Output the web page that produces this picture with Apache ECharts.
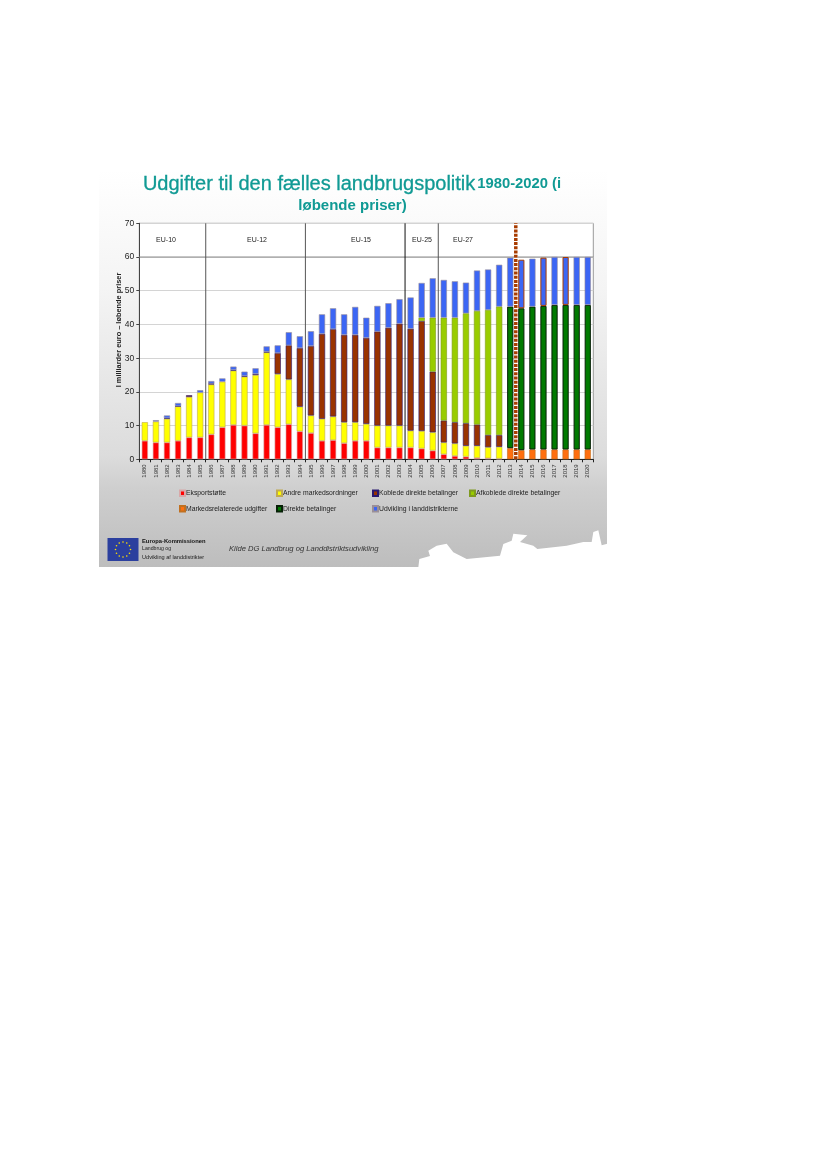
<!DOCTYPE html>
<html><head><meta charset="utf-8">
<style>html,body{margin:0;padding:0;background:#fff}#c{width:827px;height:1169px}</style>
<script src="https://cdn.jsdelivr.net/npm/echarts@6/dist/echarts.min.js"></script>
</head><body><div id="c"></div>
<script>
const years = [1980,1981,1982,1983,1984,1985,1986,1987,1988,1989,1990,1991,1992,1993,1994,1995,1996,1997,1998,1999,2000,2001,2002,2003,2004,2005,2006,2007,2008,2009,2010,2011,2012,2013,2014,2015,2016,2017,2018,2019,2020];
const eksport = [5.5,5,5,5.5,6.5,6.5,7.4,9.5,10.2,10,7.7,10.2,9.5,10.4,8.3,7.8,5.5,5.7,4.8,5.5,5.5,3.5,3.5,3.5,3.5,3.2,2.6,1.5,1,0.8,0.4,0.3,0.2,null,null,null,null,null,null,null,null];
const marked = [null,null,null,null,null,null,null,null,null,null,null,null,null,null,null,null,null,null,null,null,null,null,null,null,null,null,null,null,null,null,null,null,null,3.3,2.7,2.9,2.9,2.9,2.9,2.9,2.9];
const andre = [5.5,6.2,7,10.2,12,13.3,14.8,13.5,16.1,14.5,17.3,21.5,15.8,13.3,7.3,5.2,6.5,7,6.2,5.5,5,6.5,6.5,6.5,5,5.2,5.4,3.5,3.7,3.2,3.6,3.3,3.5,null,null,null,null,null,null,null,null];
const koblede = [null,null,0.2,0.1,0.5,null,0.3,null,0.2,0.2,0.3,0.2,6.2,10.1,17.4,20.6,25.2,25.9,25.9,25.9,25.5,27.9,29,30.2,30.2,32.6,18,6.5,6.3,6.7,6.3,3.6,3.5,null,null,null,null,null,null,null,null];
const afkoblede = [null,null,null,null,null,null,null,null,null,null,null,null,null,null,null,null,null,null,null,null,null,null,null,null,null,1,16,30.5,31,32.6,33.7,37.1,38.1,null,null,null,null,null,null,null,null];
const direkte = [null,null,null,null,null,null,null,null,null,null,null,null,null,null,null,null,null,null,null,null,null,null,null,null,null,null,null,null,null,null,null,null,null,42,42.1,42.4,42.6,42.9,42.9,42.9,42.9];
const udvikling = [null,0.4,0.8,0.9,null,0.7,0.7,1,1,1.3,1.7,1.6,2.3,3.9,3.5,4.4,5.8,6.2,6.1,8.3,6,7.6,7.3,7.3,9.3,10.3,11.7,11.2,10.8,9.1,12,12,12.4,14.5,14.4,14.2,14.3,14.2,14.2,14.2,14.2];
const brownEdgedYears = [2014,2016,2018];
const eraDividers = [6,15,24,27];
const eraLabels = [['EU-10',166],['EU-12',257],['EU-15',361],['EU-25',422],['EU-27',463]];
const reformDivider = 34;
const seriesDefs = [
  ['Eksportstøtte',eksport,'#ff0000','#d8a8a8'],
  ['Markedsrelaterede udgifter',marked,'#ff6f0f','#c07020'],
  ['Andre markedsordninger',andre,'#ffff00','#c0aa50'],
  ['Koblede direkte betalinger',koblede,'#993300','#2a1a70'],
  ['Afkoblede direkte betalinger',afkoblede,'#99cc00','#7f9a20'],
  ['Direkte betalinger',direkte,'#007a00','#062006'],
  ['Udvikling i landdistrikterne',udvikling,'#3c66f4','#9a8f98']
];
const tornEdge = [[955,337],[958,312],[990,303],[985,287],[1010,272],[1040,266],[1060,292],[1100,312],[1200,302],[1210,267],[1235,257],[1240,236],[1282,241],[1260,261],[1300,272],[1312,282],[1400,272],[1450,261],[1475,261],[1480,231],[1495,226],[1505,271],[1522,266],[1522,337]];
const chart = echarts.init(document.getElementById('c'),null,{renderer:'canvas'});
const bars = seriesDefs.map(d=>({name:d[0],type:'bar',stack:'t',
  data:d[1]===udvikling?d[1].map((v,i)=>brownEdgedYears.includes(years[i])?{value:v,itemStyle:{borderColor:'#a83c00',borderWidth:1}}:v):d[1],
  barWidth:'56%',itemStyle:{color:d[2],borderColor:d[3],borderWidth:d[1]===direkte?1:0.6},xAxisIndex:0,yAxisIndex:0,z:3,silent:true}));
const rule = (x,color,width,type,z)=>({type:'line',xAxisIndex:1,yAxisIndex:0,data:[[x,0],[x,70]],symbol:'none',silent:true,z:z||5,lineStyle:{color,width,type:type||'solid'}});
const lines = [
  {type:'line',xAxisIndex:1,yAxisIndex:0,data:[[0,60],[41,60]],symbol:'none',silent:true,z:1,lineStyle:{color:'#8c8c8c',width:1}},
  ...eraDividers.map(x=>rule(x,x===24?'#111':'#555',1)),
  rule(reformDivider,'#ffffff',3.5,'solid',6),
  rule(reformDivider,'#a83c00',3.5,[3,1.2],7)
];
const legendCols = [[0,1,179],[2,5,276],[3,6,372],[4,null,469]];
const flagStars = Array.from({length:12},(_,i)=>i);
const txt=(x,y,text,o)=>({type:'text',x,y,silent:true,z:20,style:Object.assign({text,fontFamily:'Liberation Sans',fill:'#222',fontSize:7},o||{})});
const graphic = [
  {type:'rect',z:-10,silent:true,shape:{x:99,y:170,width:508,height:397},style:{fill:new echarts.graphic.LinearGradient(0,0,0,1,[{offset:0,color:'#ffffff'},{offset:0.3,color:'#f4f4f4'},{offset:0.72,color:'#dcdcdc'},{offset:0.8,color:'#cfcfcf'},{offset:1,color:'#bdbdbd'}])}},
  {type:'polygon',z:-9,silent:true,shape:{points:tornEdge.map(p=>[100+p[0]/3,455+p[1]/3])},style:{fill:'#ffffff'}},
  txt(352,184,'{a|Udgifter til den fælles landbrugspolitik} {b|1980-2020 (i}',{align:'center',verticalAlign:'middle',rich:{a:{fontFamily:'Liberation Sans',fontSize:20,fill:'#109a94',fontWeight:'normal',stroke:'#109a94',lineWidth:0.3},b:{fontFamily:'Liberation Sans',fontSize:14.8,fontWeight:'bold',fill:'#109a94'}}}),
  txt(352.5,206,'løbende priser)',{align:'center',verticalAlign:'middle',fontSize:15,fontWeight:'bold',fill:'#109a94'}),
  txt(0,0,'I milliarder euro – løbende priser',{align:'center',verticalAlign:'middle',fontSize:7.4,fontWeight:'bold',fill:'#222'}),
  ...eraLabels.map(e=>txt(e[1],240,e[0],{align:'center',verticalAlign:'middle',fontSize:7,fill:'#222'})),
  {type:'rect',z:20,silent:true,shape:{x:107.5,y:538,width:31,height:23},style:{fill:'#2b3f9e'}},
  ...flagStars.map(i=>({type:'circle',z:21,silent:true,shape:{cx:123+7.5*Math.cos(i*Math.PI/6),cy:549.5+7.5*Math.sin(i*Math.PI/6),r:0.8},style:{fill:'#ffe000'}})),
  txt(142,541,'Europa-Kommissionen',{verticalAlign:'middle',fontSize:5.8,fontWeight:'bold',fill:'#111'}),
  txt(142,549,'Landbrug og',{verticalAlign:'middle',fontSize:5.2,fill:'#222'}),
  txt(142,557,'Udvikling af landdistrikter',{verticalAlign:'middle',fontSize:5.6,fill:'#222'}),
  txt(229,549,'Kilde DG Landbrug og Landdistriktsudvikling',{verticalAlign:'middle',fontSize:7.6,fontStyle:'italic',fill:'#333'})
];
const yTitle = graphic[4]; yTitle.x = 119; yTitle.y = 330; yTitle.rotation = Math.PI/2;
chart.setOption({
  animation:false,backgroundColor:'#ffffff',
  grid:{left:139.3,top:223.3,width:454,height:236,show:true,backgroundColor:'#ffffff',borderColor:'#9a9a9a',borderWidth:1,containLabel:false},
  xAxis:[
    {type:'category',data:years,axisTick:{show:true,alignWithLabel:false,length:3,lineStyle:{color:'#222'}},axisLine:{lineStyle:{color:'#222'}},
     axisLabel:{interval:0,rotate:90,fontSize:6,fontFamily:'Liberation Sans',color:'#333',margin:5},splitLine:{show:false}},
    {type:'value',min:0,max:41,show:false,splitLine:{show:false}}
  ],
  yAxis:{type:'value',min:0,max:70,interval:10,
    axisLine:{show:true,lineStyle:{color:'#444'}},axisTick:{show:true,length:3,lineStyle:{color:'#444'}},
    axisLabel:{fontSize:8.5,fontFamily:'Liberation Sans',color:'#222',margin:5},
    splitLine:{show:true,lineStyle:{color:'#d4d4d4',width:1}}},
  legend:legendCols.map(c=>({orient:'vertical',left:c[2],top:489.5,itemWidth:5,itemHeight:5.5,itemGap:8,padding:0,selectedMode:false,icon:'rect',
    textStyle:{fontSize:6.8,fontFamily:'Liberation Sans',color:'#222',padding:[0,0,0,-4]},
    data:[c[0],c[1]].filter(i=>i!==null).map(i=>seriesDefs[i][0])})),
  graphic,
  series:[...bars,...lines]
});
</script></body></html>
